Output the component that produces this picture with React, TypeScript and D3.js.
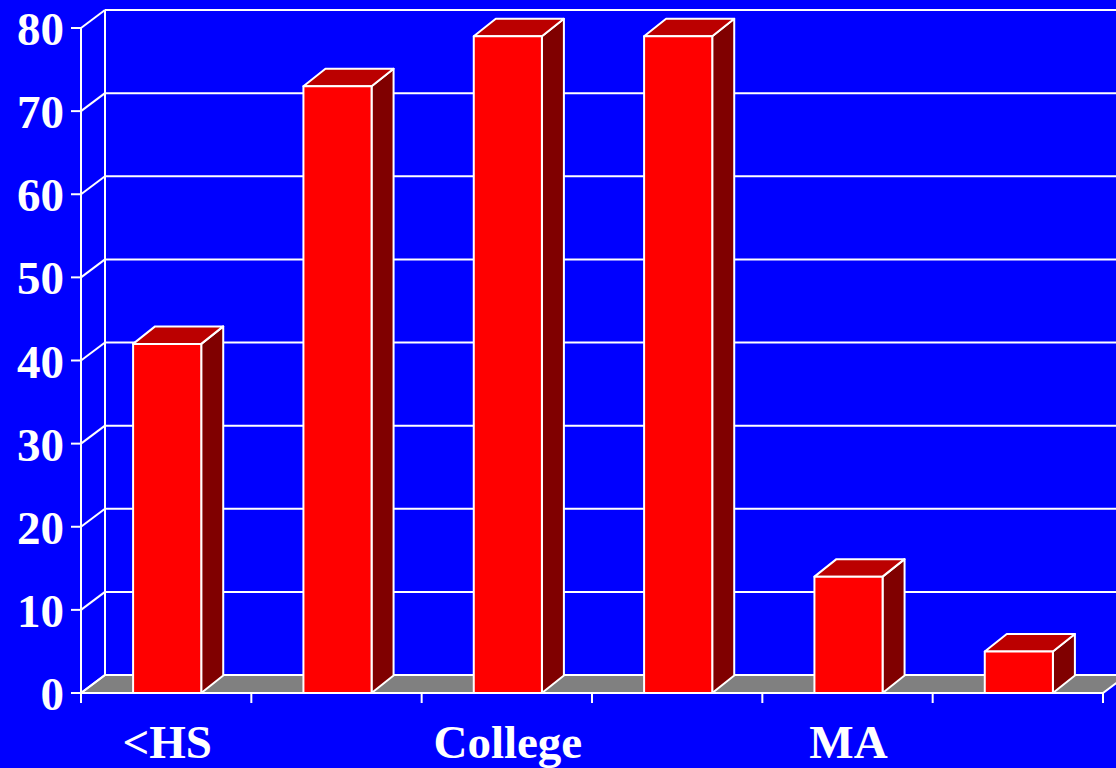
import React from "react";
import * as d3 from "d3";

const categories = ["<HS", "", "College", "", "MA", ""];
const values = [42, 73, 79, 79, 14, 5];
const yTicks = [0, 10, 20, 30, 40, 50, 60, 70, 80];

const W = 1116;
const H = 768;
const WALL_DX = 24;
const WALL_DY = 18;
const BAR_DX = 22;
const BAR_DY = 17.5;
const FONT = "'Liberation Serif', 'Times New Roman', serif";

export default function App() {
  const left = 81;
  const right = 1103;
  const y = d3.scaleLinear().domain([0, 80]).range([693, 28]);
  const x = d3
    .scaleBand<number>()
    .domain(categories.map((_, i) => i))
    .range([left + 1, right + 1])
    .paddingInner(0.6)
    .paddingOuter(0.3);
  const step = x.step();
  const edges = d3.range(categories.length + 1).map((i) => left + i * step);
  const y0 = y(0);

  return (
    <svg
      width={W}
      height={H}
      style={{ position: "absolute", left: 0, top: 0, background: "#0000ff" }}
    >
      <rect x={0} y={0} width={W} height={H} fill="#0000ff" />
      {/* floor */}
      <polygon
        points={`${left},${y0} ${left + WALL_DX},${y0 - WALL_DY} ${right + WALL_DX},${y0 - WALL_DY} ${right},${y0}`}
        fill="#808080"
        stroke="#ffffff"
        strokeWidth={2}
      />
      {/* back wall left edge */}
      <line
        x1={left + WALL_DX}
        x2={left + WALL_DX}
        y1={y(80) - WALL_DY}
        y2={y0 - WALL_DY}
        stroke="#fff"
        strokeWidth={2}
      />
      {/* gridlines */}
      {yTicks.map((t) => (
        <g key={t}>
          <line
            x1={left + WALL_DX}
            x2={W + 20}
            y1={y(t) - WALL_DY}
            y2={y(t) - WALL_DY}
            stroke="#fff"
            strokeWidth={2}
          />
          <line
            x1={left}
            x2={left + WALL_DX}
            y1={y(t)}
            y2={y(t) - WALL_DY}
            stroke="#fff"
            strokeWidth={2}
          />
          <line x1={left - 10} x2={left} y1={y(t)} y2={y(t)} stroke="#fff" strokeWidth={2} />
          <text
            x={64}
            y={y(t) + 17}
            textAnchor="end"
            fill="#fff"
            fontFamily={FONT}
            fontWeight="bold"
            fontSize={47}
          >
            {t}
          </text>
        </g>
      ))}
      {/* front y axis */}
      <line x1={left} x2={left} y1={y(80)} y2={y0 + 10} stroke="#fff" strokeWidth={2} />
      {/* front x axis */}
      <line x1={left} x2={right} y1={y0} y2={y0} stroke="#fff" strokeWidth={2} />
      {edges.map((e, i) => (
        <line key={i} x1={e} x2={e} y1={y0} y2={y0 + 10} stroke="#fff" strokeWidth={2} />
      ))}
      {/* bars */}
      {values.map((v, i) => {
        const bx = x(i)!;
        const bw = x.bandwidth();
        const top = y(v);
        return (
          <g key={i} stroke="#fff" strokeWidth={2} strokeLinejoin="round">
            <polygon
              points={`${bx + bw},${top} ${bx + bw + BAR_DX},${top - BAR_DY} ${bx + bw + BAR_DX},${y0 - BAR_DY} ${bx + bw},${y0}`}
              fill="#800000"
            />
            <polygon
              points={`${bx},${top} ${bx + BAR_DX},${top - BAR_DY} ${bx + bw + BAR_DX},${top - BAR_DY} ${bx + bw},${top}`}
              fill="#bb0000"
            />
            <rect x={bx} y={top} width={bw} height={y0 - top} fill="#ff0000" />
          </g>
        );
      })}
      {/* category labels */}
      {categories.map((c, i) =>
        c ? (
          <text
            key={i}
            x={x(i)! + x.bandwidth() / 2}
            y={758}
            textAnchor="middle"
            fill="#fff"
            fontFamily={FONT}
            fontWeight="bold"
            fontSize={47}
          >
            {c}
          </text>
        ) : null
      )}
    </svg>
  );
}
